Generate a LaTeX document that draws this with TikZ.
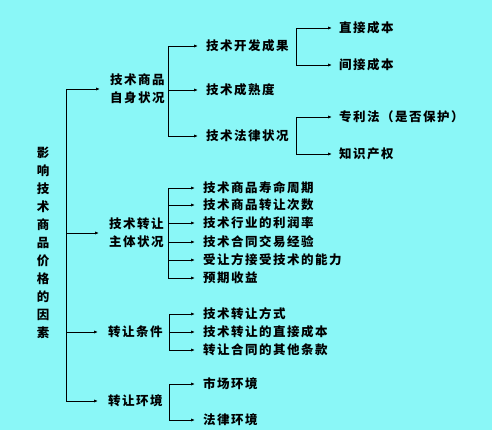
\documentclass[tikz,border=0pt]{standalone}
\usepackage{fontspec}
\newfontfamily\cjk[LetterSpace=12]{Noto Sans CJK SC}
\usetikzlibrary{arrows.meta}
\definecolor{bgcyan}{HTML}{8AF7F7}

\begin{document}
\begin{tikzpicture}[x=1pt, y=-1pt,
    every node/.style={font=\cjk\bfseries\fontsize{12.5}{18}\selectfont, inner sep=0pt, anchor=west},
    arr/.style={-{Latex[length=4pt,width=3.2pt]}, line width=0.8pt}]
    \fill[bgcyan] (0,0) rectangle (492,430);
    \useasboundingbox (0,0) rectangle (492,430);

    % left title
    \node[anchor=center, align=center] (root) at (43,243) {影\\响\\技\\术\\商\\品\\价\\格\\的\\因\\素};

    % second level
    \node[align=center] (own) at (110,89) {技术商品\\自身状况};
    \node[align=center] (party) at (109,233) {技术转让\\主体状况};
    \node (cond) at (108,332) {转让条件};
    \node (env) at (108,401) {转让环境};

    % third level
    \node (result) at (206,46) {技术开发成果};
    \node (mature) at (206,90) {技术成熟度};
    \node (legal) at (206,136) {技术法律状况};
    \node (life) at (203,188) {技术商品寿命周期};
    \node (times) at (203,205) {技术商品转让次数};
    \node (profit) at (203,223) {技术行业的利润率};
    \node (exper) at (203,242) {技术合同交易经验};
    \node (abil) at (203,260) {受让方接受技术的能力};
    \node (gain) at (203,278) {预期收益};
    \node (mode) at (203,314) {技术转让方式};
    \node (cost) at (203,332) {技术转让的直接成本};
    \node (terms) at (203,350) {转让合同的其他条款};
    \node (market) at (203,384) {市场环境};
    \node (law) at (203,420) {法律环境};

    % fourth level
    \node (direct) at (339,28) {直接成本};
    \node (indirect) at (339,65) {间接成本};
    \node (patent) at (339,117) {专利法（是否保护）};
    \node (ip) at (339,154) {知识产权};

    \draw[arr, shorten >=10pt] (root.east) ++(17,0) |- (own.west);
    \draw[arr, shorten >=10pt] (root.east) ++(17,0) |- (party.west);
    \draw[arr, shorten >=10pt] (root.east) ++(17,0) |- (cond.west);
    \draw[arr, shorten >=10pt] (root.east) ++(17,0) |- (env.west);

    \draw[arr, shorten >=8pt] (own.east) ++(3,0) |- (result.west);
    \draw[arr, shorten >=8pt] (own.east) ++(3,0) |- (mature.west);
    \draw[arr, shorten >=8pt] (own.east) ++(3,0) |- (legal.west);
    \draw[arr, shorten >=8pt] (party.east) ++(4,0) |- (life.west);
    \draw[arr, shorten >=8pt] (party.east) ++(4,0) |- (times.west);
    \draw[arr, shorten >=8pt] (party.east) ++(4,0) |- (profit.west);
    \draw[arr, shorten >=8pt] (party.east) ++(4,0) |- (exper.west);
    \draw[arr, shorten >=8pt] (party.east) ++(4,0) |- (abil.west);
    \draw[arr, shorten >=8pt] (party.east) ++(4,0) |- (gain.west);
    \draw[arr, shorten >=8pt] (cond.east) ++(6,0) |- (mode.west);
    \draw[arr, shorten >=8pt] (cond.east) ++(6,0) |- (cost.west);
    \draw[arr, shorten >=8pt] (cond.east) ++(6,0) |- (terms.west);
    \draw[arr, shorten >=8pt] (env.east) ++(6,0) |- (market.west);
    \draw[arr, shorten >=8pt] (env.east) ++(6,0) |- (law.west);

    \draw[arr, shorten >=7pt] (result.east) ++(7,0) |- (direct.west);
    \draw[arr, shorten >=7pt] (result.east) ++(7,0) |- (indirect.west);
    \draw[arr, shorten >=7pt] (legal.east) ++(7,0) |- (patent.west);
    \draw[arr, shorten >=7pt] (legal.east) ++(7,0) |- (ip.west);
\end{tikzpicture}
\end{document}
